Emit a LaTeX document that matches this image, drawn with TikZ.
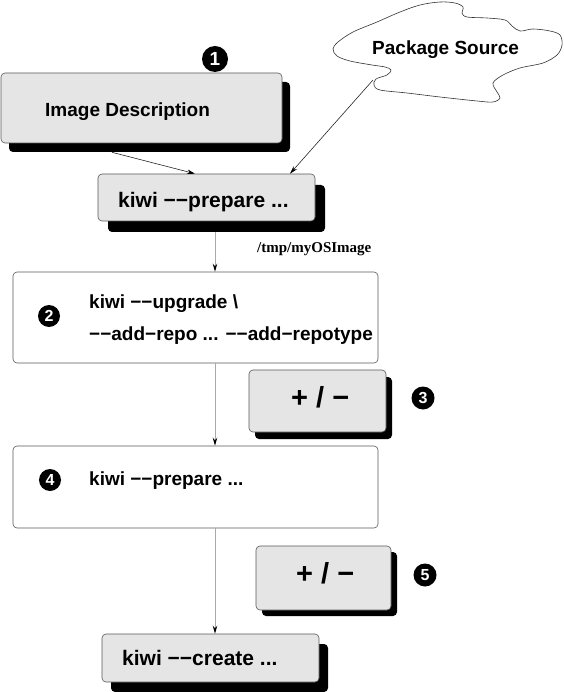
\documentclass[tikz,border=0pt]{standalone}
\usepackage{fontspec}
\setmainfont{Liberation Sans}
\newfontfamily\serifbf{Liberation Serif}
\usetikzlibrary{shadows,arrows.meta,calc}
\definecolor{boxgray}{RGB}{229,229,229}
\definecolor{linegray}{RGB}{170,170,170}
\begin{document}
\begin{tikzpicture}[x=1pt,y=-1pt,
  graybox/.style={draw=black!65, line width=0.6pt, fill=boxgray, rounded corners=4pt, inner sep=0pt},
  whitebox/.style={draw=black!65, line width=0.6pt, fill=white, rounded corners=4pt, inner sep=0pt},
  shad/.style 2 args={general shadow={fill=black, shadow xshift=#1, shadow yshift=#2}},
  txt/.style={font=\bfseries\fontsize{19}{19}\selectfont, inner sep=0pt, anchor=base west},
  bigtxt/.style={font=\bfseries\fontsize{21}{21}\selectfont, inner sep=0pt, anchor=base west},
  pmtxt/.style={font=\bfseries\fontsize{29}{29}\selectfont, inner sep=0pt, anchor=base west},
  numc/.style={circle, fill=black, text=white, inner sep=0pt, font=\bfseries\fontsize{16}{16}\selectfont},
  arr/.style={draw=black!85, line width=0.6pt, -{Stealth[length=8pt,width=4.5pt,black]}},
  varr/.style={draw=linegray, line width=1pt, -{Stealth[length=8pt,width=4.5pt,black]}}
]
\useasboundingbox (0,0) rectangle (563,692);

% cloud
\draw[black!80, line width=0.6pt, fill=white] plot[smooth cycle, tension=0.55] coordinates {
 (333,49) (338,42) (353,32) (377,22) (400,12) (420,5) (440,2) (455,3) (463,7)
 (462,13) (467,17) (487,18) (505,20) (512,26) (520,31) (533,29) (550,31) (560,35)
 (562,45) (557,55) (543,63) (520,68) (503,75) (493,83) (497,92) (500,98) (493,102)
 (477,101) (440,97) (407,93) (380,90) (374,85) (376,79) (387,75) (391,70) (385,67)
 (372,65) (350,61) (337,56)};
\node[txt] (pkg) at (372,55) {Package Source};
\coordinate (cloudtip) at (373,80);

% boxes
\node[graybox, shad={8pt}{-9pt}, minimum width=281pt, minimum height=70pt] (desc) at (141.5,108) {};
\node[txt] (desctxt) at (45,117) {Image Description};
\node[numc, minimum size=26pt, font=\bfseries\fontsize{19}{19}\selectfont] (n1) at (215,59) {1};

\node[graybox, shad={10pt}{-11pt}, minimum width=217pt, minimum height=47pt] (prep) at (206.5,197.5) {};
\node[bigtxt] (preptxt) at (118,208) {kiwi −−prepare ...};

\node[font=\serifbf\bfseries\fontsize{15}{15}\selectfont, anchor=base west, inner sep=0pt] (tmp) at (257,253) {/tmp/myOSImage};

\node[whitebox, minimum width=365pt, minimum height=91pt] (up) at (195.5,317.5) {};
\node[numc, minimum size=22pt] (n2) at (49,316) {2};
\node[txt] (uptxta) at (89,308) {kiwi −−upgrade \textbackslash};
\node[txt] (uptxtb) at (89,340) {−−add−repo ... −−add−repotype};

\node[graybox, shad={6pt}{-7pt}, minimum width=137pt, minimum height=62pt] (pm3) at (317.5,401) {};
\node[pmtxt] (pm3txt) at (291,407) {+ / −};
\node[numc, minimum size=23pt] (n3) at (423,398) {3};

\node[whitebox, minimum width=365pt, minimum height=82pt] (prep2) at (195.5,487) {};
\node[numc, minimum size=22pt] (n4) at (50,480) {4};
\node[txt] (prep2txt) at (89,485) {kiwi −−prepare ...};

\node[graybox, shad={6pt}{-6pt}, minimum width=135pt, minimum height=64pt] (pm5) at (323.5,578) {};
\node[pmtxt] (pm5txt) at (296,583) {+ / −};
\node[numc, minimum size=23pt] (n5) at (425,575) {5};

\node[graybox, shad={9pt}{-10pt}, minimum width=217pt, minimum height=48pt] (create) at (210.5,658) {};
\node[bigtxt] (createtxt) at (122,665) {kiwi −−create ...};

% connectors
\draw[arr] ([xshift=-29.5pt,yshift=-9pt]desc.south) -- ([xshift=-11.5pt]prep.north);
\draw[arr] (cloudtip) -- ([xshift=83.5pt]prep.north);
\draw[varr] ([xshift=8.5pt,yshift=-11pt]prep.south) -- ([xshift=19.5pt]up.north);
\draw[varr] ([xshift=19.5pt]up.south) -- ([xshift=19.5pt]prep2.north);
\draw[varr] ([xshift=19.5pt]prep2.south) -- ([xshift=4.5pt]create.north);
\end{tikzpicture}
\end{document}
